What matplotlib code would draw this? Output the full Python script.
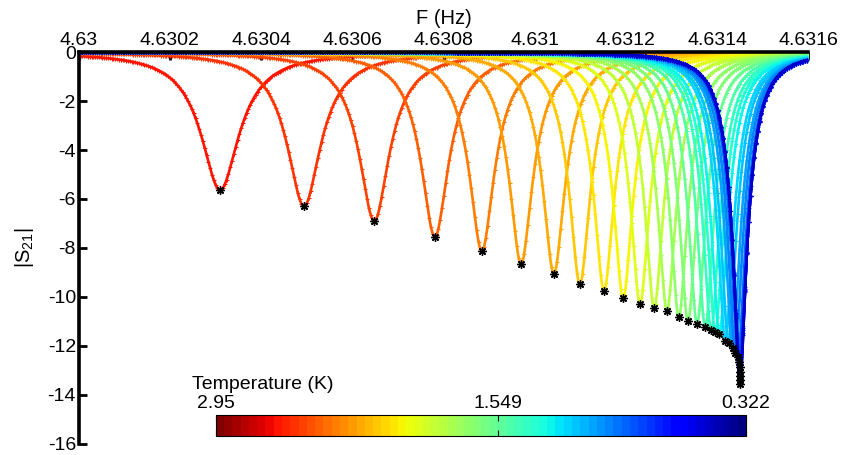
import numpy as np
import matplotlib
matplotlib.use("Agg")
import matplotlib.pyplot as plt
from matplotlib.colors import Normalize
from matplotlib.cm import ScalarMappable

plt.rcParams['font.family'] = ['Liberation Sans', 'DejaVu Sans']
plt.rcParams['mathtext.fontset'] = 'custom'
plt.rcParams['mathtext.rm'] = 'Liberation Sans'

# resonance frequency (GHz axis labelled Hz), read at each black asterisk
f0 = [4.630310, 4.630494, 4.630648, 4.630781, 4.630884, 4.630970, 4.631042,
      4.631099, 4.631152, 4.631194, 4.631231, 4.631262, 4.631290, 4.631316,
      4.631336, 4.631356, 4.631374, 4.631387, 4.631396, 4.631405, 4.631418,
      4.631425, 4.631434, 4.631440, 4.631446, 4.631448, 4.631450, 4.631450,
      4.631450, 4.631450, 4.631450]
# depth of each dip |S21| (dB)
depth = [-5.63, -6.29, -6.90, -7.55, -8.12, -8.65, -9.06, -9.47, -9.76, -10.04,
         -10.29, -10.45, -10.57, -10.82, -10.98, -11.10, -11.22, -11.35, -11.43,
         -11.51, -11.80, -11.88, -12.08, -12.29, -12.45, -12.65, -12.86, -13.06,
         -13.22, -13.39, -13.55]
# bath temperature of each sweep (K)
temps = [2.64, 2.57, 2.50, 2.43, 2.36, 2.29, 2.22, 2.15, 2.08, 2.01, 1.93,
         1.86, 1.79, 1.71, 1.64, 1.57, 1.50, 1.43, 1.36, 1.29, 1.22, 1.15,
         1.08, 1.01, 0.94, 0.87, 0.80, 0.73, 0.66, 0.59, 0.52]
Qc = 68000.0

t_min, t_max = 0.322, 2.95
cbar_ticks = [2.95, 1.549, 0.322]
cbar_labels = ['2.95', '1.549', '0.322']
xticks = [4.63, 4.6302, 4.6304, 4.6306, 4.6308, 4.631, 4.6312, 4.6314, 4.6316]
xticklabels = ['4.63', '4.6302', '4.6304', '4.6306', '4.6308', '4.631',
               '4.6312', '4.6314', '4.6316']
yticks = [0, -2, -4, -6, -8, -10, -12, -14, -16]

freq = np.linspace(4.63, 4.6316, 1200)

fig = plt.figure(figsize=(8.42, 4.55), dpi=100)
ax = fig.add_axes([0.0935, 0.0242, 0.8665, 0.8615])

cmap = plt.get_cmap('jet', 64)
norm = Normalize(vmin=t_min, vmax=t_max)

for fr, d, t in zip(f0, depth, temps):
    s0 = 10 ** (d / 20.0)
    Q = Qc * (1 - s0)
    s21 = 1 - (1 - s0) / (1 + 2j * Q * (freq - fr) / fr)
    ax.plot(freq, 20 * np.log10(np.abs(s21)), '-', color=cmap(norm(t)),
            lw=1.9, marker='+', ms=3, mew=0.8, markevery=3)

ax.plot(f0, depth, linestyle='none', marker=(8, 2, 0), ms=6, mew=1.0,
        color='black', zorder=5)

ax.set_xlim(4.63, 4.6316)
ax.set_ylim(-16, 0)
ax.xaxis.tick_top()
ax.xaxis.set_label_position('top')
ax.set_xticks(xticks)
ax.set_xticklabels(xticklabels)
ax.set_yticks(yticks)
ax.set_yticklabels([str(v) for v in yticks])
ax.tick_params(direction='in', length=6, width=2, labelsize=14, pad=2)
ax.spines['right'].set_visible(False)
ax.spines['bottom'].set_visible(False)
ax.spines['left'].set_linewidth(2.6)
ax.spines['top'].set_linewidth(2.6)
ax.set_xlabel('F (Hz)', fontsize=14.5, labelpad=6)
ax.set_ylabel(r'|S$_{\mathrm{21}}$|', fontsize=14.5, labelpad=8)

cax = fig.add_axes([0.2562, 0.0418, 0.6298, 0.0462])
sm = ScalarMappable(norm=norm, cmap=cmap)
cb = fig.colorbar(sm, cax=cax, orientation='horizontal')
cax.invert_xaxis()
cb.set_ticks(cbar_ticks)
cb.set_ticklabels(cbar_labels)
cax.tick_params(top=True, bottom=True, labeltop=True, labelbottom=False,
                direction='in', length=4, width=0.8, labelsize=14, pad=2)
cb.outline.set_linewidth(0.8)
cax.xaxis.set_label_position('top')
cax.set_xlabel('Temperature (K)', fontsize=14, ha='left')
cax.xaxis.set_label_coords(-0.045, 2.25)

fig.savefig('out.png', dpi=100)
